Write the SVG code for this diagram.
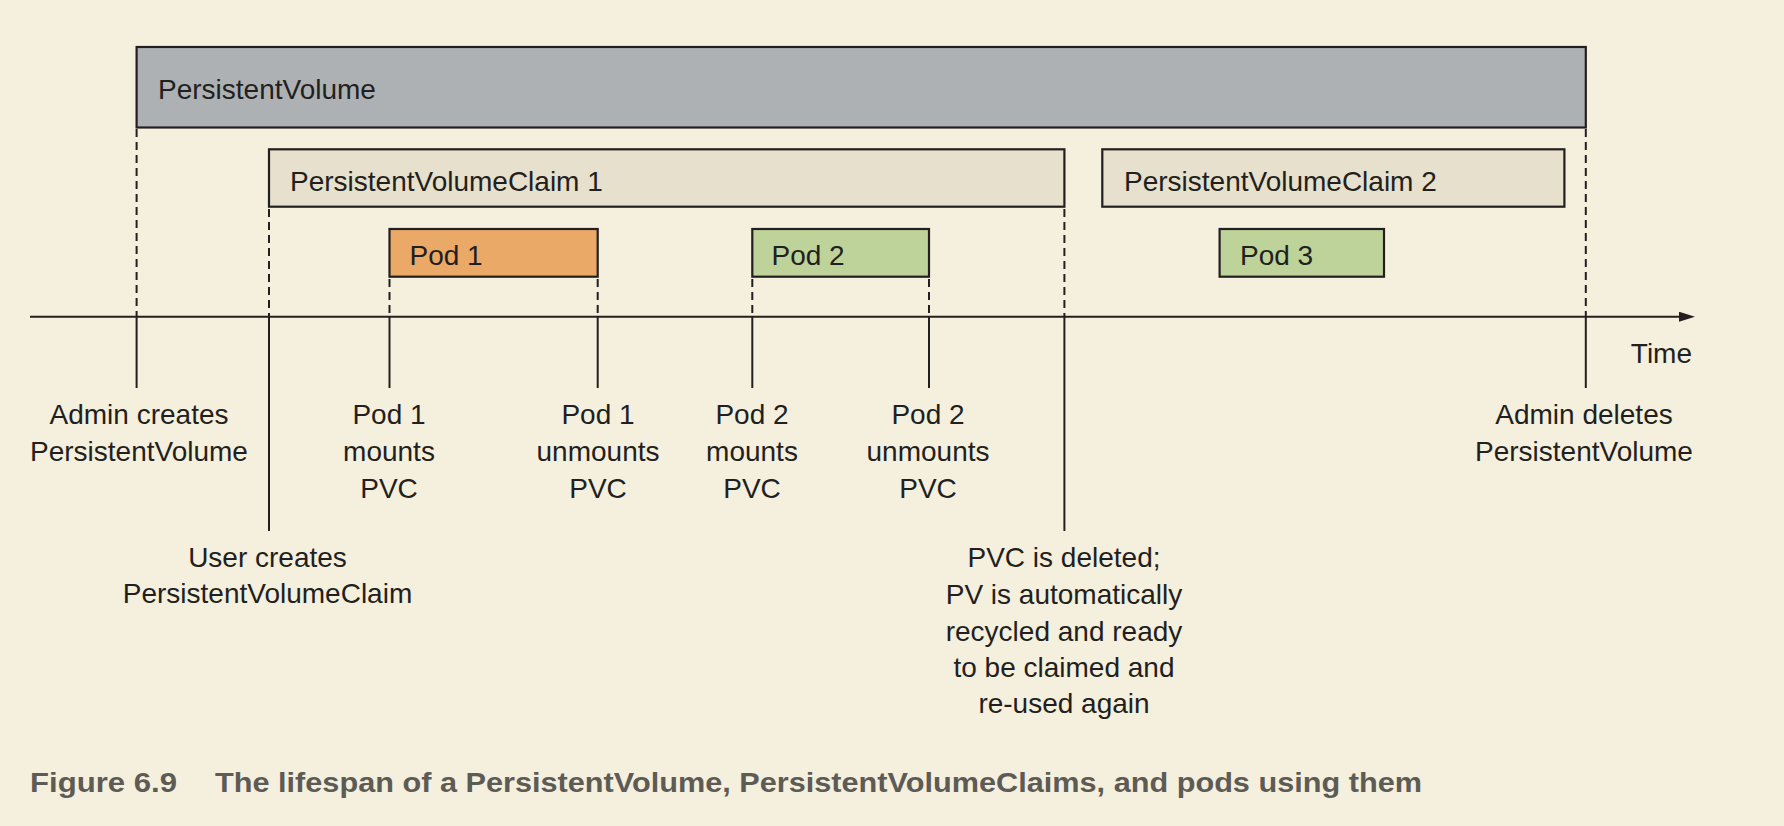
<svg xmlns="http://www.w3.org/2000/svg" width="1784" height="826" viewBox="0 0 1784 826">
<style>
.bg{fill:#f5efdd}
.box{stroke:#231f20;stroke-width:2.2}
.pv{fill:#adb1b4}
.pvc{fill:#e6e0cc}
.pod1{fill:#eba968}
.pod{fill:#bdd39a}
.t{font-family:"Liberation Sans",Arial,sans-serif;font-size:28px;fill:#231f20}
.c{text-anchor:middle}
.solid{stroke:#231f20;stroke-width:2;fill:none}
.dash{stroke:#231f20;stroke-width:2;stroke-dasharray:8 5;fill:none}
.cap{font-family:"Liberation Sans",Arial,sans-serif;font-size:28px;font-weight:bold;fill:#5d5b55}
</style>
<defs>
<marker id="arr" markerWidth="16" markerHeight="10" refX="0" refY="5" orient="auto" markerUnits="userSpaceOnUse">
<path d="M0,0 L16,5 L0,10 Z" fill="#231f20"/>
</marker>
</defs>
<rect class="bg" x="0" y="0" width="1784" height="826"/>
<g id="connectors">
<line class="solid" x1="30" y1="316.7" x2="1679" y2="316.7" marker-end="url(#arr)"/>
<line class="dash" x1="136.6" y1="129" x2="136.6" y2="316.7"/>
<line class="solid" x1="136.6" y1="316.7" x2="136.6" y2="388"/>
<line class="dash" x1="269" y1="209" x2="269" y2="316.7"/>
<line class="solid" x1="269" y1="316.7" x2="269" y2="531"/>
<line class="dash" x1="389.5" y1="279" x2="389.5" y2="316.7"/>
<line class="solid" x1="389.5" y1="316.7" x2="389.5" y2="388"/>
<line class="dash" x1="597.7" y1="279" x2="597.7" y2="316.7"/>
<line class="solid" x1="597.7" y1="316.7" x2="597.7" y2="388"/>
<line class="dash" x1="752.3" y1="279" x2="752.3" y2="316.7"/>
<line class="solid" x1="752.3" y1="316.7" x2="752.3" y2="388"/>
<line class="dash" x1="929" y1="279" x2="929" y2="316.7"/>
<line class="solid" x1="929" y1="316.7" x2="929" y2="388"/>
<line class="dash" x1="1064.4" y1="209" x2="1064.4" y2="316.7"/>
<line class="solid" x1="1064.4" y1="316.7" x2="1064.4" y2="531"/>
<line class="dash" x1="1585.8" y1="129" x2="1585.8" y2="316.7"/>
<line class="solid" x1="1585.8" y1="316.7" x2="1585.8" y2="388"/>
</g>
<g id="pv">
<rect class="box pv" x="136.6" y="47" width="1449.2" height="80.5"/>
<text class="t" x="158" y="99">PersistentVolume</text>
</g>
<g id="pvc1">
<rect class="box pvc" x="269" y="149.3" width="795.4" height="57.4"/>
<text class="t" x="290" y="190.7">PersistentVolumeClaim 1</text>
</g>
<g id="pvc2">
<rect class="box pvc" x="1102.3" y="149.3" width="462.1" height="57.4"/>
<text class="t" x="1124" y="190.7">PersistentVolumeClaim 2</text>
</g>
<g id="pod1">
<rect class="box pod1" x="389.5" y="229" width="208.2" height="47.7"/>
<text class="t" x="409.5" y="265">Pod 1</text>
</g>
<g id="pod2">
<rect class="box pod" x="752.3" y="229" width="176.7" height="47.7"/>
<text class="t" x="771.5" y="265">Pod 2</text>
</g>
<g id="pod3">
<rect class="box pod" x="1219.6" y="229" width="164.4" height="47.7"/>
<text class="t" x="1240" y="265">Pod 3</text>
</g>
<g id="time-label">
<text class="t" x="1692" y="363.3" text-anchor="end">Time</text>
</g>
<g id="ev-admin-creates">
<text class="t c" x="139" y="424.3">Admin creates</text>
<text class="t c" x="139" y="461">PersistentVolume</text>
</g>
<g id="ev-pod1-mounts">
<text class="t c" x="389" y="424.3">Pod 1</text>
<text class="t c" x="389" y="461">mounts</text>
<text class="t c" x="389" y="497.7">PVC</text>
</g>
<g id="ev-pod1-unmounts">
<text class="t c" x="598" y="424.3">Pod 1</text>
<text class="t c" x="598" y="461">unmounts</text>
<text class="t c" x="598" y="497.7">PVC</text>
</g>
<g id="ev-pod2-mounts">
<text class="t c" x="752" y="424.3">Pod 2</text>
<text class="t c" x="752" y="461">mounts</text>
<text class="t c" x="752" y="497.7">PVC</text>
</g>
<g id="ev-pod2-unmounts">
<text class="t c" x="928" y="424.3">Pod 2</text>
<text class="t c" x="928" y="461">unmounts</text>
<text class="t c" x="928" y="497.7">PVC</text>
</g>
<g id="ev-admin-deletes">
<text class="t c" x="1584" y="424.3">Admin deletes</text>
<text class="t c" x="1584" y="461">PersistentVolume</text>
</g>
<g id="ev-user-creates">
<text class="t c" x="267.5" y="566.7">User creates</text>
<text class="t c" x="267.5" y="603.3">PersistentVolumeClaim</text>
</g>
<g id="ev-pvc-deleted">
<text class="t c" x="1064" y="567.3">PVC is deleted;</text>
<text class="t c" x="1064" y="604">PV is automatically</text>
<text class="t c" x="1064" y="640.7">recycled and ready</text>
<text class="t c" x="1064" y="677.3">to be claimed and</text>
<text class="t c" x="1064" y="713.3">re-used again</text>
</g>
<g id="caption">
<text class="cap" x="30" y="792" textLength="147" lengthAdjust="spacingAndGlyphs">Figure 6.9</text>
<text class="cap" x="215" y="792" textLength="1207" lengthAdjust="spacingAndGlyphs">The lifespan of a PersistentVolume, PersistentVolumeClaims, and pods using them</text>
</g>
</svg>
